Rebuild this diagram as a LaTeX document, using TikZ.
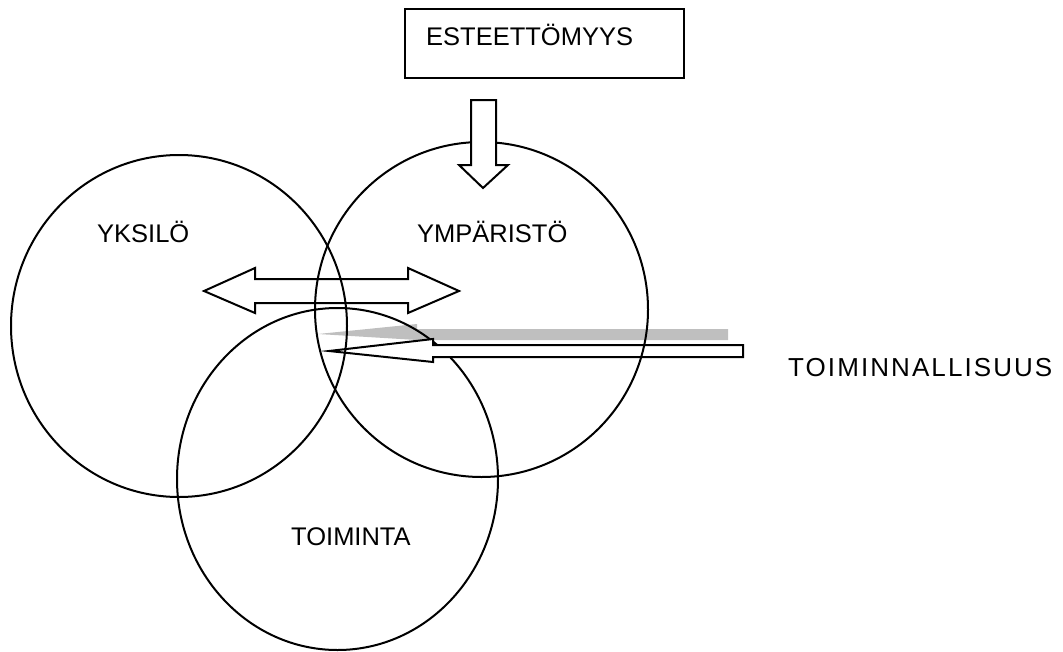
\documentclass[tikz,border=0pt]{standalone}
\usepackage{fontspec}
\setmainfont{Liberation Sans}
\usetikzlibrary{shapes.geometric}
\definecolor{arrowgray}{RGB}{191,191,191}
\tikzset{
  ring/.style={draw, ellipse, inner sep=0pt, outer sep=0pt, line width=2pt},
  label/.style={inner sep=0pt, anchor=base west, font=\fontsize{25.5}{30}\selectfont},
  widelabel/.style={label, font=\fontsize{26}{30}\selectfont\addfontfeatures{LetterSpace=8}},
  outline/.style={draw, line width=2pt, line join=miter},
  whitearrow/.style={outline, fill=white},
  grayarrow/.style={fill=arrowgray, draw=none}
}
\begin{document}
\begin{tikzpicture}[x=1pt, y=-1pt]
\useasboundingbox (0,0) rectangle (1063,651);
% gray arrow (behind)
\fill[grayarrow] (318,334) -- (417,324) -- (417,329) -- (728,329) -- (728,340) -- (417,340) -- cycle;
% lower circle
\node[ring, minimum width=321pt, minimum height=342pt] (toiminta) at (337.5,479) {};
% white arrow pointing left
\draw[whitearrow] (329,351) -- (433,339) -- (433,345) -- (743,345) -- (743,357) -- (433,357) -- (433,362) -- cycle;
% upper circles
\node[ring, minimum width=336pt, minimum height=342pt] (yksilo) at (179,326) {};
\node[ring, minimum width=333pt, minimum height=335pt] (ymparisto) at (481.5,309.5) {};
% double arrow
\draw[outline] (204,291) -- (255,268) -- (255,279) -- (408,279) -- (408,268) -- (459,291) -- (408,313) -- (408,303) -- (255,303) -- (255,313) -- cycle;
% box and down arrow
\node[outline, draw, anchor=north west, minimum width=279pt, minimum height=69pt, inner sep=0pt] (box) at (404,8) {};
\draw[whitearrow] (471,100) -- (496,100) -- (496,165) -- (508,165) -- (483,188) -- (459,165) -- (471,165) -- cycle;
% texts
\node[label] (tbox) at (426,45) {ESTEETTÖMYYS};
\node[label] (tyksilo) at (97,242) {YKSILÖ};
\node[label] (tympar) at (417,242) {YMPÄRISTÖ};
\node[label] (ttoim) at (291,545) {TOIMINTA};
\node[widelabel] (ttoimin) at (788,376) {TOIMINNALLISUUS};
\end{tikzpicture}
\end{document}
